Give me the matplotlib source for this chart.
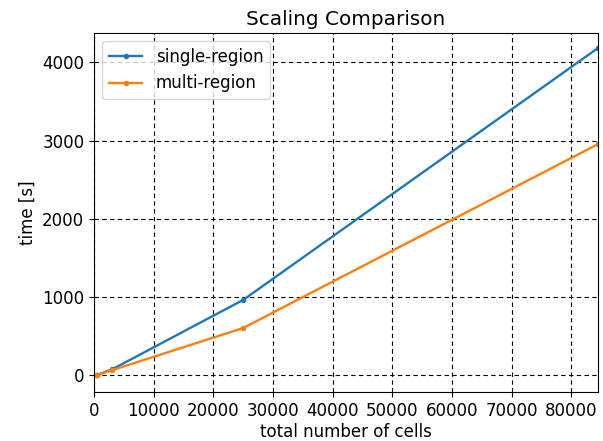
import matplotlib
matplotlib.use('Agg')
import matplotlib.pyplot as plt

# number of cells and runtimes
cells = [500, 3000, 25000, 84500]
single_region = [0, 70, 960, 4185]
multi_region = [0, 60, 600, 2955]

plt.rcParams['font.size'] = 12

fig = plt.figure(figsize=(6.03, 4.41), dpi=100)
ax = fig.add_subplot(111)
ax.plot(cells, single_region, marker='.', lw=1.7, label='single-region')
ax.plot(cells, multi_region, marker='.', lw=1.7, label='multi-region')

ax.set_xlim(0, cells[-1])
ax.set_ylim(-225, 4375)
ax.set_xlabel('total number of cells', labelpad=2)
ax.set_ylabel('time [s]')
ax.set_title('Scaling Comparison')
ax.grid(True, color='black', linestyle='--', dashes=(4, 3))
ax.legend(loc='upper left')

fig.subplots_adjust(left=0.156, right=0.992, top=0.925, bottom=0.11)
fig.savefig('out.png')
